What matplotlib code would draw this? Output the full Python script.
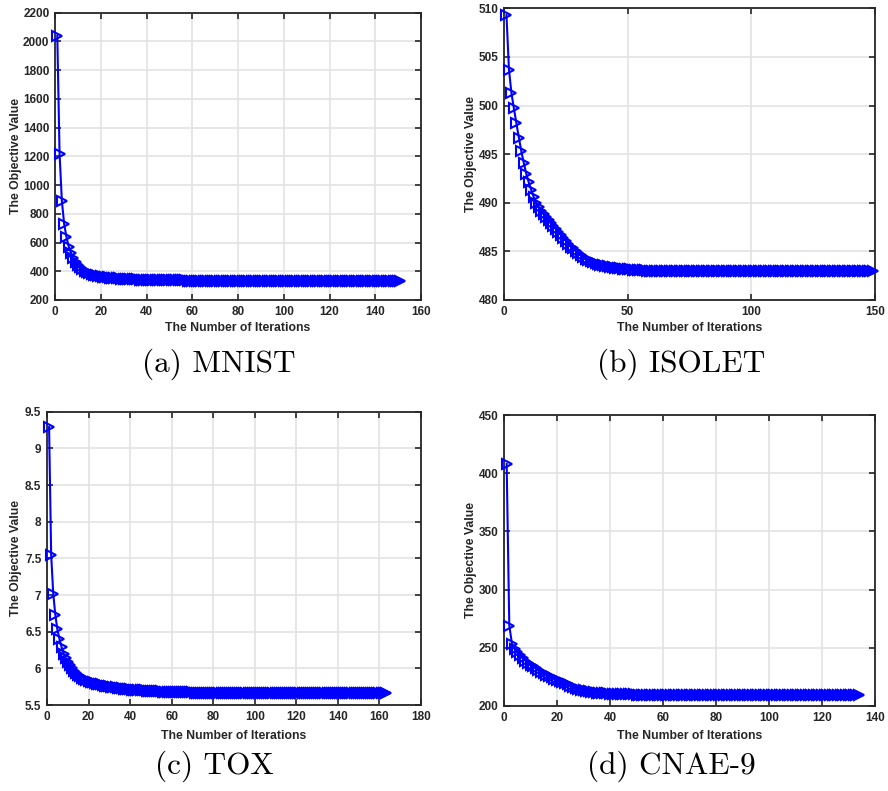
import numpy as np
from matplotlib import pyplot as plt

# objective value per iteration
mnist_obj = [
    2040, 1215, 890, 730, 638, 572, 527, 492, 466, 445,
    428, 414, 403, 394, 387, 381, 376, 372, 368, 365,
    362, 360, 358, 356, 354, 353, 351, 350, 349, 348,
    347, 346, 345, 344, 344, 343, 342, 342, 341, 341,
    340, 340, 339, 339, 339, 338, 338, 338, 337, 337,
    337, 337, 336, 336, 336, 336, 336, 335, 335, 335,
    335, 335, 335, 334, 334, 334, 334, 334, 334, 334,
    333, 333, 333, 333, 333, 333, 333, 333, 333, 333,
    333, 333, 333, 333, 333, 333, 333, 333, 333, 333,
    333, 333, 333, 333, 333, 333, 333, 333, 333, 333,
    332, 332, 332, 332, 332, 332, 332, 332, 332, 332,
    332, 332, 332, 332, 332, 332, 332, 332, 332, 332,
    332, 332, 332, 332, 332, 332, 332, 332, 332, 332,
    332, 332, 332, 332, 332, 332, 332, 332, 332, 332,
    332, 332, 332, 332, 332, 332, 332, 332, 332, 332,
    332,
]

isolet_obj = [
    509.3, 503.7, 501.3, 499.7, 498.2, 496.7, 495.3, 494.1, 493.0, 492.1,
    491.3, 490.6, 490.0, 489.6, 489.2, 488.8, 488.5, 488.2, 487.9, 487.6,
    487.3, 487.0, 486.7, 486.4, 486.1, 485.8, 485.5, 485.3, 485.0, 484.8,
    484.6, 484.4, 484.2, 484.1, 484.0, 483.9, 483.8, 483.7, 483.6, 483.55,
    483.5, 483.45, 483.4, 483.35, 483.3, 483.3, 483.25, 483.2, 483.2, 483.15,
    483.15, 483.1, 483.1, 483.1, 483.05, 483.05, 483.05, 483.0, 483.0, 483.0,
    483.0, 483.0, 483.0, 483.0, 483.0, 483.0, 483.0, 483.0, 483.0, 483.0,
    483.0, 483.0, 483.0, 483.0, 483.0, 483.0, 483.0, 483.0, 483.0, 483.0,
    483.0, 483.0, 483.0, 483.0, 483.0, 483.0, 483.0, 483.0, 483.0, 483.0,
    483.0, 483.0, 483.0, 483.0, 483.0, 483.0, 483.0, 483.0, 483.0, 483.0,
    482.95, 482.95, 482.95, 482.95, 482.95, 482.95, 482.95, 482.95, 482.95, 482.95,
    482.95, 482.95, 482.95, 482.95, 482.95, 482.95, 482.95, 482.95, 482.95, 482.95,
    482.95, 482.95, 482.95, 482.95, 482.95, 482.95, 482.95, 482.95, 482.95, 482.95,
    482.95, 482.95, 482.95, 482.95, 482.95, 482.95, 482.95, 482.95, 482.95, 482.95,
    482.95, 482.95, 482.95, 482.95, 482.95, 482.95, 482.95, 482.95, 482.95,
]

tox_obj = [
    9.29, 7.55, 7.02, 6.73, 6.53, 6.40, 6.29, 6.20, 6.14, 6.09,
    6.04, 6.00, 5.97, 5.94, 5.915, 5.895, 5.875, 5.86, 5.845, 5.83,
    5.82, 5.81, 5.80, 5.79, 5.785, 5.78, 5.77, 5.765, 5.76, 5.755,
    5.75, 5.745, 5.74, 5.735, 5.73, 5.73, 5.725, 5.72, 5.72, 5.715,
    5.71, 5.71, 5.705, 5.705, 5.70, 5.70, 5.70, 5.695, 5.695, 5.69,
    5.69, 5.69, 5.685, 5.685, 5.685, 5.68, 5.68, 5.68, 5.68, 5.675,
    5.675, 5.675, 5.675, 5.675, 5.675, 5.675, 5.675, 5.675, 5.675, 5.675,
    5.67, 5.67, 5.67, 5.67, 5.67, 5.67, 5.67, 5.67, 5.67, 5.67,
    5.67, 5.67, 5.67, 5.67, 5.67, 5.67, 5.67, 5.67, 5.67, 5.67,
    5.665, 5.665, 5.665, 5.665, 5.665, 5.665, 5.665, 5.665, 5.665, 5.665,
    5.665, 5.665, 5.665, 5.665, 5.665, 5.665, 5.665, 5.665, 5.665, 5.665,
    5.665, 5.665, 5.665, 5.665, 5.665, 5.665, 5.665, 5.665, 5.665, 5.665,
    5.66, 5.66, 5.66, 5.66, 5.66, 5.66, 5.66, 5.66, 5.66, 5.66,
    5.66, 5.66, 5.66, 5.66, 5.66, 5.66, 5.66, 5.66, 5.66, 5.66,
    5.66, 5.66, 5.66, 5.66, 5.66, 5.66, 5.66, 5.66, 5.66, 5.66,
    5.66, 5.66, 5.66, 5.66, 5.66, 5.66, 5.66, 5.66, 5.66, 5.66,
    5.66, 5.66, 5.66,
]

cnae_obj = [
    408, 269, 253.5, 249, 246, 243.5, 241, 239, 237, 235.5,
    234, 232.5, 231, 229.5, 228, 227, 225.5, 224.5, 223.5, 222.5,
    221.5, 220.5, 219.5, 218.5, 217.5, 216.5, 215.5, 215, 214, 213.5,
    213, 212.5, 212, 212, 211.5, 211.5, 211, 211, 210.8, 210.6,
    210.5, 210.4, 210.3, 210.2, 210.1, 210, 210, 209.9, 209.9, 209.8,
    209.7, 209.7, 209.7, 209.7, 209.7, 209.7, 209.7, 209.7, 209.7, 209.7,
    209.7, 209.7, 209.7, 209.7, 209.7, 209.7, 209.7, 209.7, 209.7, 209.7,
    209.6, 209.6, 209.6, 209.6, 209.6, 209.6, 209.6, 209.6, 209.6, 209.6,
    209.6, 209.6, 209.6, 209.6, 209.6, 209.6, 209.6, 209.6, 209.6, 209.6,
    209.6, 209.6, 209.6, 209.6, 209.6, 209.6, 209.6, 209.6, 209.6, 209.6,
    209.5, 209.5, 209.5, 209.5, 209.5, 209.5, 209.5, 209.5, 209.5, 209.5,
    209.5, 209.5, 209.5, 209.5, 209.5, 209.5, 209.5, 209.5, 209.5, 209.5,
    209.5, 209.5, 209.5, 209.5, 209.5, 209.5, 209.5, 209.5, 209.5, 209.5,
    209.5, 209.5, 209.5, 209.5,
]

captions = ['(a) MNIST', '(b) ISOLET', '(c) TOX', '(d) CNAE-9']
all_obj = [mnist_obj, isolet_obj, tox_obj, cnae_obj]

# axis settings per panel (limits and ticks like the matlab figures)
x_limits = [(0, 160), (0, 150), (0, 180), (0, 140)]
x_ticks = [np.arange(0, 161, 20), [0, 50, 100, 150], np.arange(0, 181, 20), np.arange(0, 141, 20)]
y_limits = [(200, 2200), (480, 510), (5.5, 9.5), (200, 450)]
y_ticks = [np.arange(200, 2201, 200), np.arange(480, 511, 5), np.arange(5.5, 9.6, 0.5), np.arange(200, 451, 50)]
y_ticklabels = [None, None, ['5.5', '6', '6.5', '7', '7.5', '8', '8.5', '9', '9.5'], None]

W, H = 888, 791
# axes boxes in pixels: left, top, right, bottom
boxes = [(55, 12.7, 421, 300), (504, 8.3, 875, 300), (47, 411.7, 421, 705), (504, 415, 875, 706)]
caption_xy = [(219, 364), (681, 364), (214, 766), (671, 766)]
ylabel_x = [16, 471, 16, 471]
xlabel_y = [328, 328, 736, 736]

plt.rcParams['font.family'] = ['Liberation Sans', 'DejaVu Sans']

fig = plt.figure(figsize=(W / 100., H / 100.), dpi=100)
dark = '#262626'

for i in range(4):
    l, t, r, b = boxes[i]
    ax = fig.add_axes([l / W, 1 - b / H, (r - l) / W, (b - t) / H])

    y = all_obj[i]
    x = np.arange(1, len(y) + 1)
    ax.plot(x, y, color='#0000ff', lw=1.5, marker='>', ms=7.5, mew=1.5,
            mfc='none', mec='#0000ff', clip_on=False, zorder=3)

    ax.set_xlim(x_limits[i])
    ax.set_ylim(y_limits[i])
    ax.set_xticks(x_ticks[i])
    ax.set_yticks(y_ticks[i])
    if y_ticklabels[i] is not None:
        ax.set_yticklabels(y_ticklabels[i])

    ax.grid(True, color='#e3e3e3', lw=1.2)
    ax.set_axisbelow(True)
    ax.tick_params(direction='in', length=4, width=1.2, colors=dark,
                   top=True, right=True, labelsize=8.5, pad=4)
    for lab in ax.get_xticklabels() + ax.get_yticklabels():
        lab.set_fontweight('bold')
    for s in ax.spines.values():
        s.set_color(dark)
        s.set_linewidth(1.3)

    ax.set_xlabel('The Number of Iterations', fontsize=8.8, fontweight='bold', color=dark)
    ax.set_ylabel('The Objective Value', fontsize=8.8, fontweight='bold', color=dark)
    ax.xaxis.set_label_coords(0.5, -(xlabel_y[i] - b) / (b - t), transform=ax.transAxes)
    ax.yaxis.set_label_coords(-(l - ylabel_x[i]) / (r - l), 0.5, transform=ax.transAxes)
    ax.xaxis.label.set_va('center')
    ax.yaxis.label.set_va('center')

    # subfigure caption in computer modern
    cx, cy = caption_xy[i]
    fig.text(cx / W, 1 - cy / H, captions[i], family=['cmr10', 'DejaVu Serif'],
             fontsize=22.5, ha='center', va='center', color='black')

plt.savefig('out.png', dpi=100)
